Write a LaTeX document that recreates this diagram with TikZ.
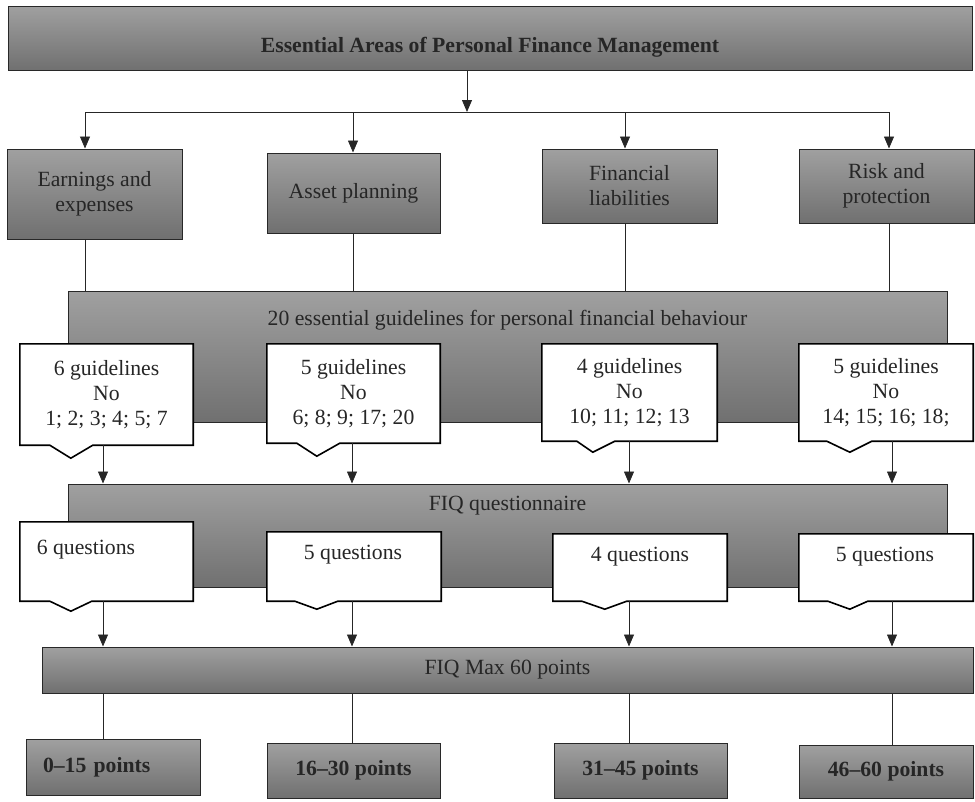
\documentclass[tikz,border=0pt]{standalone}
\usepackage{fontspec}
\setmainfont{Liberation Serif}
\usetikzlibrary{arrows.meta,calc}
\definecolor{boxtop}{RGB}{160,160,160}
\definecolor{boxbot}{RGB}{112,112,112}
\definecolor{boxline}{RGB}{40,40,40}
\definecolor{figtext}{RGB}{38,38,38}
\tikzset{
  lab/.style  ={font=\fontsize{21.7}{25}\selectfont},
  labb/.style ={font=\fontsize{21.7}{25}\selectfont\bfseries},
  gbox/.style ={draw=boxline, line width=1pt, top color=boxtop, bottom color=boxbot, inner sep=0pt, text=figtext, align=center},
  wbox/.style ={fill=white, inner sep=0pt, text=figtext, align=center},
  txt/.style  ={inner sep=0pt, text=figtext},
  cline/.style={draw=black, line width=1.6pt, line join=miter},
  ln/.style   ={draw=black!85, line width=0.8pt},
  arr/.style  ={draw=black!85, line width=0.8pt, -{Triangle[length=12pt,width=10pt]}},
}
\begin{document}
\begin{tikzpicture}[x=1pt,y=-1pt]
  \useasboundingbox (0,0) rectangle (975,801);
  % top level
  \node[gbox, labb, text height=33pt, text depth=5pt, minimum width=964, minimum height=64] (title) at (490,38) {Essential Areas of Personal Finance Management};
  \coordinate (split) at (467,112);
  \coordinate (s1) at (85,112);
  \coordinate (s2) at (353,112);
  \coordinate (s3) at (625,112);
  \coordinate (s4) at (889,112);
  % areas
  \node[gbox, lab, minimum width=175, minimum height=90] (earn) at (94.5,194) {Earnings and\\expenses};
  \node[gbox, lab, minimum width=173, minimum height=80] (asset) at (353.5,193) {Asset planning};
  \node[gbox, lab, minimum width=175, minimum height=74] (liab) at (629.5,186) {Financial\\liabilities};
  \node[gbox, lab, minimum width=175, minimum height=74] (risk) at (886.5,186) {Risk and\\protection};
  \draw[arr] (title.south -| split) -- (split);
  \draw[ln] (s1) -- (s4);
  \draw[arr] (s1) -- (s1 |- earn.north);
  \draw[arr] (s2) -- (s2 |- asset.north);
  \draw[arr] (s3) -- (s3 |- liab.north);
  \draw[arr] (s4) -- (s4 |- risk.north);
  % guidelines
  \node[gbox, minimum width=879, minimum height=131] (guide) at (507.5,356.5) {};
  \node[txt, lab] (guidetxt) at (507.5,320) {20 essential guidelines for personal financial behaviour};
  \draw[ln] (earn.south -| s1) -- (s1 |- guide.north);
  \draw[ln] (asset.south -| s2) -- (s2 |- guide.north);
  \draw[ln] (liab.south -| s3) -- (s3 |- guide.north);
  \draw[ln] (risk.south -| s4) -- (s4 |- guide.north);
  \node[wbox, lab, minimum width=173, minimum height=101] (g1) at (106.5,394.5) {6 guidelines\\No\\1; 2; 3; 4; 5; 7};
  \node[wbox, lab, minimum width=173, minimum height=99] (g2) at (353.5,393.5) {5 guidelines\\No\\6; 8; 9; 17; 20};
  \node[wbox, lab, minimum width=175, minimum height=97] (g3) at (629.5,392.5) {4 guidelines\\No\\10; 11; 12; 13};
  \node[wbox, lab, minimum width=174, minimum height=97] (g4) at (886,392.5) {5 guidelines\\No\\14; 15; 16; 18;};
  \draw[cline] (g1.north west) -- (g1.north east) -- (g1.south east) -- ($(g1.south west)+(73,0)$) -- ($(g1.south west)+(51,13)$) -- ($(g1.south west)+(30,0)$) -- (g1.south west) -- cycle;
  \draw[cline] (g2.north west) -- (g2.north east) -- (g2.south east) -- ($(g2.south west)+(73,0)$) -- ($(g2.south west)+(50,13)$) -- ($(g2.south west)+(30,0)$) -- (g2.south west) -- cycle;
  \draw[cline] (g3.north west) -- (g3.north east) -- (g3.south east) -- ($(g3.south west)+(73,0)$) -- ($(g3.south west)+(51,11)$) -- ($(g3.south west)+(35,0)$) -- (g3.south west) -- cycle;
  \draw[cline] (g4.north west) -- (g4.north east) -- (g4.south east) -- ($(g4.south west)+(73,0)$) -- ($(g4.south west)+(51,11)$) -- ($(g4.south west)+(28,0)$) -- (g4.south west) -- cycle;
  % questionnaire
  \coordinate (t1) at (103,0);
  \coordinate (t2) at (352,0);
  \coordinate (t3) at (629,0);
  \coordinate (t4) at (892,0);
  \node[gbox, minimum width=879, minimum height=103] (fiqq) at (507.5,535.5) {};
  \node[txt, lab] (fiqqtxt) at (507.5,506) {FIQ questionnaire};
  \draw[arr] (g1.south -| t1) -- (t1 |- fiqq.north);
  \draw[arr] (g2.south -| t2) -- (t2 |- fiqq.north);
  \draw[arr] (g3.south -| t3) -- (t3 |- fiqq.north);
  \draw[arr] (g4.south -| t4) -- (t4 |- fiqq.north);
  \node[wbox, minimum width=173, minimum height=79] (q1) at (106.5,561.5) {};
  \node[wbox, minimum width=174, minimum height=69] (q2) at (354,566.5) {};
  \node[wbox, minimum width=174, minimum height=67] (q3) at (640,567.5) {};
  \node[wbox, minimum width=174, minimum height=67] (q4) at (886,567.5) {};
  \draw[cline] (q1.north west) -- (q1.north east) -- (q1.south east) -- ($(q1.south west)+(72,0)$) -- ($(q1.south west)+(51,10)$) -- ($(q1.south west)+(30,0)$) -- (q1.south west) -- cycle;
  \draw[cline] (q2.north west) -- (q2.north east) -- (q2.south east) -- ($(q2.south west)+(71,0)$) -- ($(q2.south west)+(50,8)$) -- ($(q2.south west)+(28,0)$) -- (q2.south west) -- cycle;
  \draw[cline] (q3.north west) -- (q3.north east) -- (q3.south east) -- ($(q3.south west)+(74,0)$) -- ($(q3.south west)+(52,8)$) -- ($(q3.south west)+(29,0)$) -- (q3.south west) -- cycle;
  \draw[cline] (q4.north west) -- (q4.north east) -- (q4.south east) -- ($(q4.south west)+(69,0)$) -- ($(q4.south west)+(51,8)$) -- ($(q4.south west)+(29,0)$) -- (q4.south west) -- cycle;
  \node[txt, lab] (q1txt) at (86,550) {6 questions};
  \node[txt, lab] (q2txt) at (353,555) {5 questions};
  \node[txt, lab] (q3txt) at (640,557) {4 questions};
  \node[txt, lab] (q4txt) at (885,557) {5 questions};
  % score
  \node[gbox, lab, minimum width=931, minimum height=46] (fiqmax) at (507.5,670) {FIQ Max 60 points};
  \draw[arr] (q1.south -| t1) -- (t1 |- fiqmax.north);
  \draw[arr] (q2.south -| t2) -- (t2 |- fiqmax.north);
  \draw[arr] (q3.south -| t3) -- (t3 |- fiqmax.north);
  \draw[arr] (q4.south -| t4) -- (t4 |- fiqmax.north);
  \node[gbox, labb, minimum width=174, minimum height=56, text width=140, inner xsep=17, align=left] (b1) at (113,767) {0--15 points};
  \node[gbox, labb, minimum width=173, minimum height=55] (b2) at (353.5,770.5) {16--30 points};
  \node[gbox, labb, minimum width=173, minimum height=55] (b3) at (640.5,770.5) {31--45 points};
  \node[gbox, labb, minimum width=174, minimum height=53] (b4) at (886,771.5) {46--60 points};
  \draw[ln] (fiqmax.south -| t1) -- (t1 |- b1.north);
  \draw[ln] (fiqmax.south -| t2) -- (t2 |- b2.north);
  \draw[ln] (fiqmax.south -| t3) -- (t3 |- b3.north);
  \draw[ln] (fiqmax.south -| t4) -- (t4 |- b4.north);
\end{tikzpicture}
\end{document}
